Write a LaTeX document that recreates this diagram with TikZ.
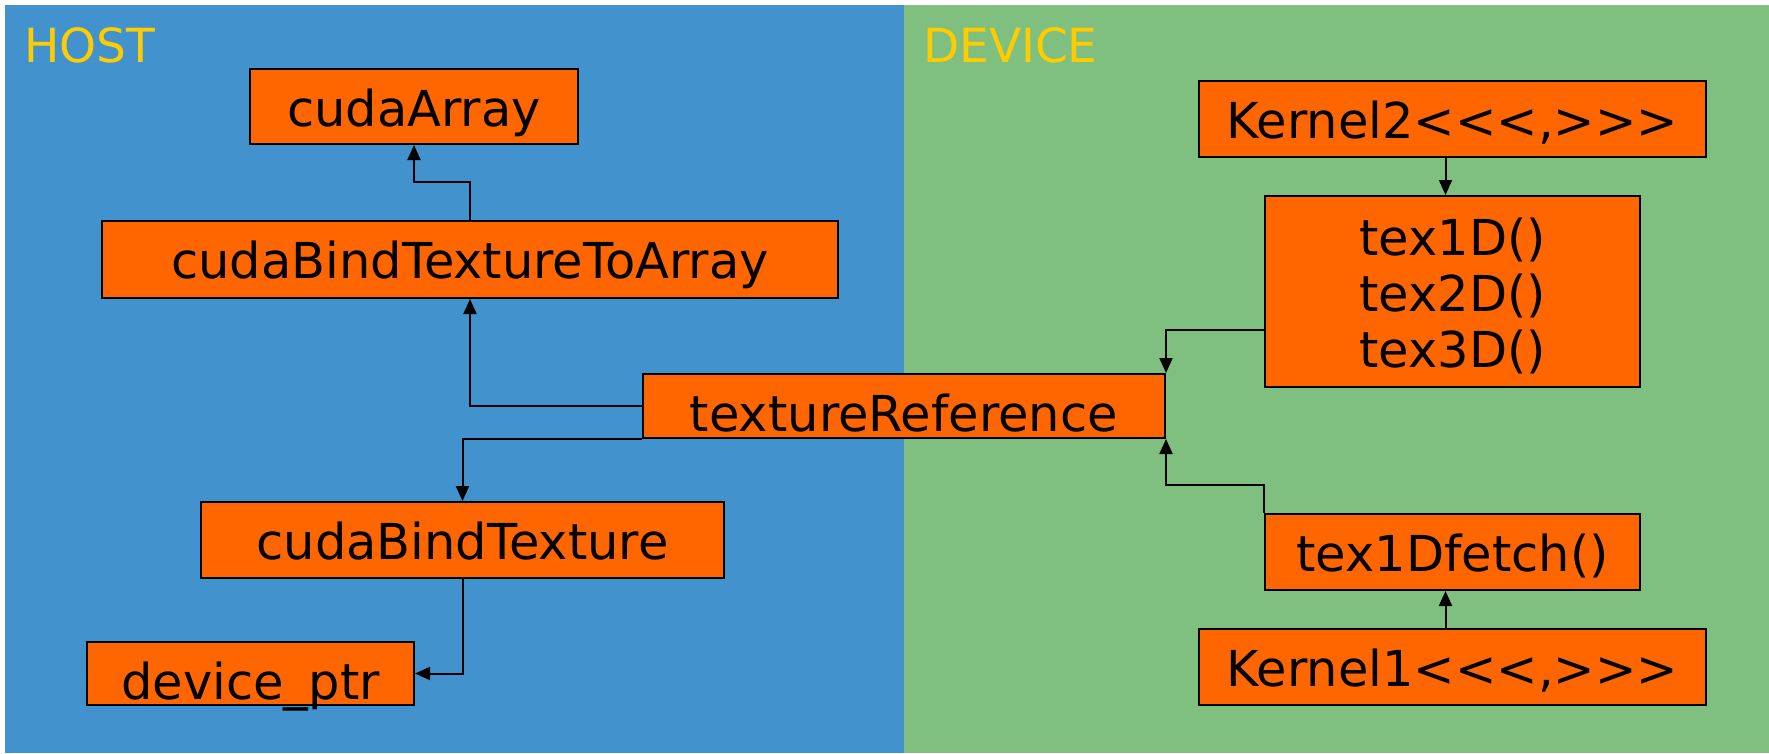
\documentclass[tikz,border=0pt]{standalone}
\usepackage{fontspec}
\setmainfont{DejaVu Sans}[Ligatures=TeXOff]
\usetikzlibrary{arrows.meta,calc}
\definecolor{hostblue}{RGB}{66,146,206}
\definecolor{devgreen}{RGB}{127,191,127}
\definecolor{boxorange}{RGB}{255,102,0}
\definecolor{labyellow}{RGB}{255,204,0}
\tikzset{
  box/.style={draw=black, line width=2pt, fill=boxorange, rectangle, inner sep=0pt, anchor=north west},
  txt/.style={anchor=base, inner sep=0pt, font=\fontsize{49.5}{56}\selectfont},
  area/.style={anchor=base west, inner sep=0pt, text=labyellow, font=\fontsize{47}{56}\selectfont},
  conn/.style={draw=black, line width=2pt, -{Triangle[length=15pt,width=13pt]}}
}
\begin{document}
\begin{tikzpicture}[x=1pt,y=-1pt]
\useasboundingbox (0,0) rectangle (1769,753);
\fill[hostblue] (4.5,4.5) rectangle (904,753);
\fill[devgreen] (904,4.5) rectangle (1769,753);
\node[area] (host) at (24,62) {HOST};
\node[area] (device) at (923,62) {DEVICE};

% boxes
\node[box, minimum width=328pt, minimum height=75pt] (ca) at (249,68) {};
\node[box, minimum width=736pt, minimum height=77pt] (bta) at (101,220) {};
\node[box, minimum width=522pt, minimum height=64pt] (tr) at (642,373) {};
\node[box, minimum width=523pt, minimum height=76pt] (cbt) at (200,501) {};
\node[box, minimum width=327pt, minimum height=63pt] (dp) at (86,641) {};
\node[box, minimum width=507pt, minimum height=76pt] (k2) at (1198,80) {};
\node[box, minimum width=375pt, minimum height=191pt] (tex) at (1264,195) {};
\node[box, minimum width=375pt, minimum height=76pt] (tf) at (1264,513) {};
\node[box, minimum width=507pt, minimum height=76pt] (k1) at (1198,628) {};

% texts
\node[txt] (tca) at ($(ca.north)+(0,58)$) {cudaArray};
\node[txt] (tbta) at ($(bta.north)+(0,58)$) {cudaBindTextureToArray};
\node[txt] (ttr) at ($(tr.north)+(0,58)$) {textureReference};
\node[txt] (tcbt) at ($(cbt.north)+(0,58)$) {cudaBindTexture};
\node[txt] (tdp) at ($(dp.north)+(0,58)$) {device\_ptr};
\node[txt] (tk2) at ($(k2.north)+(0,58)$) {Kernel2<<<,>>>};
\node[txt] (tt1) at ($(tex.north)+(0,60)$) {tex1D()};
\node[txt] (tt2) at ($(tex.north)+(0,116)$) {tex2D()};
\node[txt] (tt3) at ($(tex.north)+(0,172)$) {tex3D()};
\node[txt] (ttf) at ($(tf.north)+(0,58)$) {tex1Dfetch()};
\node[txt] (tk1) at ($(k1.north)+(0,58)$) {Kernel1<<<,>>>};

% connectors
\draw[conn] (bta.north) -- ++(0,-38) -| (ca.south);
\draw[conn] (tr.west) -| (bta.south);
\draw[conn] (tr.south west) -| (cbt.north);
\draw[conn] (cbt.south) |- (dp.east);
\draw[conn] ([xshift=-7pt]k2.south) -- ([xshift=-7pt]tex.north);
\draw[conn] ([yshift=58pt]tex.south west) -| (tr.north east);
\draw[conn] (tf.north west) -- ++(0,-28) -| (tr.south east);
\draw[conn] ([xshift=-7pt]k1.north) -- ([xshift=-7pt]tf.south);
\end{tikzpicture}
\end{document}
